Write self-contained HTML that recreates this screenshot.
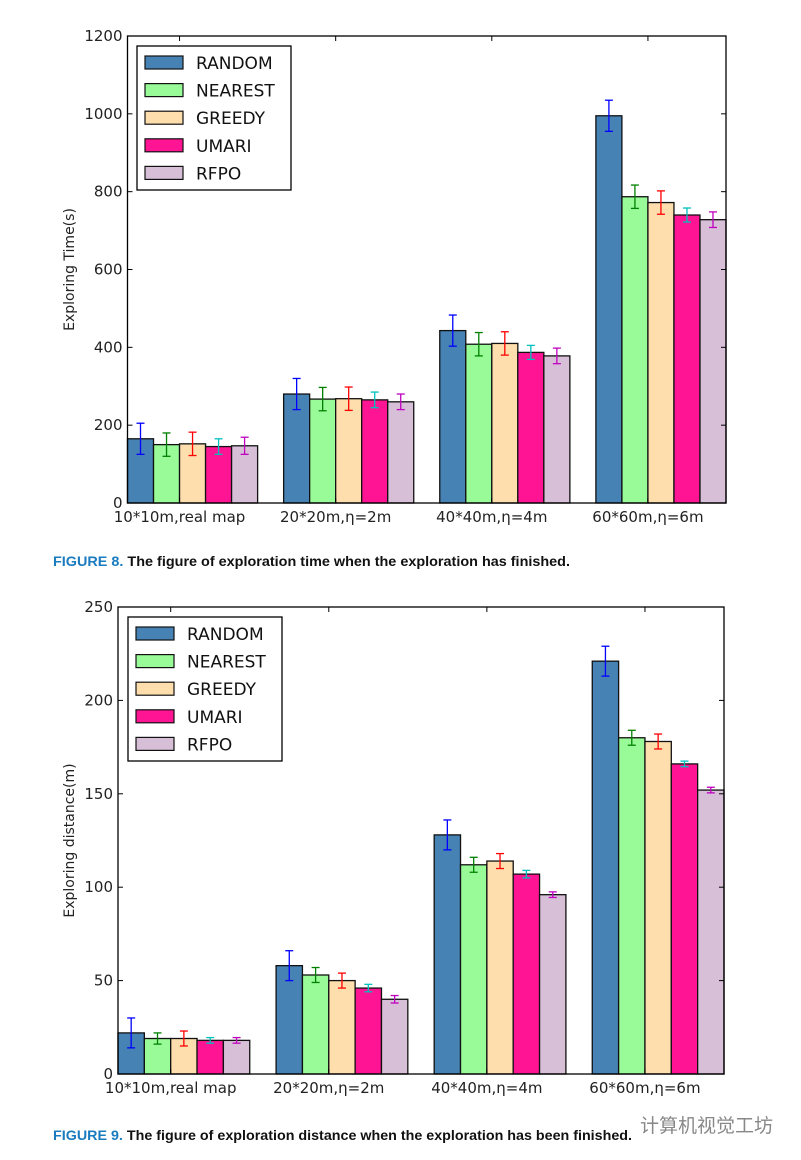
<!DOCTYPE html>
<html><head><meta charset="utf-8"><style>
body{margin:0;background:#fff;width:801px;height:1160px;overflow:hidden;font-family:"DejaVu Sans","Liberation Sans",sans-serif}
svg{position:absolute;left:0;top:0}
</style></head><body>
<svg id="s" width="801" height="1160"></svg>
<script>
const categories=["10*10m,real map","20*20m,\u03b7=2m","40*40m,\u03b7=4m","60*60m,\u03b7=6m"];
const series=["RANDOM","NEAREST","GREEDY","UMARI","RFPO"];
const timeValues=[[165,280,443,995],[150,267,408,787],[152,268,410,772],[145,265,387,740],[147,260,378,728]];
const timeErrors=[[40,40,40,40],[30,30,30,30],[30,30,30,30],[20,20,18,18],[22,20,20,20]];
const distValues=[[22,58,128,221],[19,53,112,180],[19,50,114,178],[18,46,107,166],[18,40,96,152]];
const distErrors=[[8,8,8,8],[3,4,4,4],[4,4,4,4],[1.5,2,2,1.5],[1.5,2,1.5,1.5]];
const timeTicks=[0,200,400,600,800,1000,1200];
const distTicks=[0,50,100,150,200,250];
const fills=["#4682b4","#98fb98","#ffdead","#ff1493","#d8bfd8"];
const errCols=["#0000ff","#008000","#ff0000","#00bfbf","#bf00bf"];
const S=document.getElementById('s');const NS="http://www.w3.org/2000/svg";
function mk(t,a,p){const e=document.createElementNS(NS,t);for(const k in a)e.setAttribute(k,a[k]);(p||S).appendChild(e);return e;}
function chart(o){
 const {L,R,T,B,max,vals,errs,ticks,title,cap,capY,capW,legX,legY,id}=o;
 const g=mk('g',{});
 
 
 const y=v=>B-(v/max)*(B-T);
 const bw=(R-L)/23;
 const x=(gi,si)=>L+(gi*6+si)*bw;
 for(let si=0;si<5;si++)for(let gi=0;gi<4;gi++){
  const v=vals[si][gi],e=errs[si][gi];
  const r=mk('rect',{x:x(gi,si),y:y(v),width:bw,height:B-y(v),fill:fills[si],stroke:'#111','stroke-width':1.3},g);
  
  
  const cx=x(gi,si)+bw/2;
  mk('line',{x1:cx,x2:cx,y1:y(v+e),y2:y(v-e),stroke:errCols[si],'stroke-width':1.3},g);
  mk('line',{x1:cx-4,x2:cx+4,y1:y(v+e),y2:y(v+e),stroke:errCols[si],'stroke-width':1.3},g);
  mk('line',{x1:cx-4,x2:cx+4,y1:y(v-e),y2:y(v-e),stroke:errCols[si],'stroke-width':1.3},g);
 }
 mk('rect',{x:L,y:T,width:R-L,height:B-T,fill:'none',stroke:'#000','stroke-width':1.3},g);
 ticks.forEach(t=>{
  mk('line',{x1:L,x2:L+5,y1:y(t),y2:y(t),stroke:'#000'},g);
  mk('line',{x1:R,x2:R-5,y1:y(t),y2:y(t),stroke:'#000'},g);
  const tx=mk('text',{x:L-5,y:y(t)+5,'text-anchor':'end','font-size':15,fill:'#222'},g);tx.textContent=t;
  
  
 });
 categories.forEach((c,gi)=>{
  const cx=x(gi,2);
  mk('line',{x1:cx,x2:cx,y1:B,y2:B-5,stroke:'#000'},g);
  mk('line',{x1:cx,x2:cx,y1:T,y2:T+5,stroke:'#000'},g);
  const tx=mk('text',{x:cx,y:B+19,'text-anchor':'middle','font-size':15,fill:'#222'},g);tx.textContent=c;
  
  
 });
 const yt=mk('text',{x:0,y:0,transform:`translate(74,${(T+B)/2}) rotate(-90)`,'text-anchor':'middle','font-size':14,fill:'#222'},g);yt.textContent=title;
 
 
 const lg=mk('g',{},g);
 
 
 mk('rect',{x:legX,y:legY,width:154,height:144,fill:'#fff',stroke:'#000','stroke-width':1.3},lg);
 series.forEach((s,i)=>{
  const ly=legY+10+i*27.6;
  mk('rect',{x:legX+8,y:ly,width:38,height:13,fill:fills[i],stroke:'#111','stroke-width':1.2},lg);
  const t=mk('text',{x:legX+59,y:ly+13,'font-size':17,fill:'#111'},lg);t.textContent=s;
  
  
 });
 const ct=mk('text',{x:53,y:capY,'font-size':14,'font-weight':'bold',fill:'#111','font-family':'"Liberation Sans",sans-serif',textLength:capW,lengthAdjust:'spacingAndGlyphs'},g);
 const a=mk('tspan',{fill:'#1a7bbf'},ct);a.textContent=cap[0];
 const b=mk('tspan',{},ct);b.textContent=cap[1];
 
 
}
chart({id:'time',L:127.5,R:726,T:36,B:503,max:1200,vals:timeValues,errs:timeErrors,ticks:timeTicks,title:'Exploring Time(s)',cap:['FIGURE 8.  ','The figure of exploration time when the exploration has finished.'],capY:566,capW:517,legX:137,legY:46});
chart({id:'dist',L:118,R:724,T:607,B:1074,max:250,vals:distValues,errs:distErrors,ticks:distTicks,title:'Exploring distance(m)',cap:['FIGURE 9.  ','The figure of exploration distance when the exploration has been finished.'],capY:1140,capW:579,legX:128,legY:617});
const w=mk('text',{x:640,y:1132,'font-size':19,fill:'#888','font-family':'"Liberation Sans","Noto Sans CJK SC",sans-serif'});w.textContent='计算机视觉工坊';


</script>
</body></html>
